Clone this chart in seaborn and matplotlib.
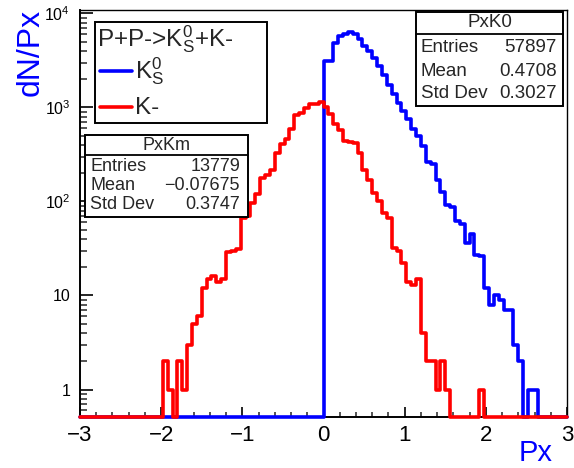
import numpy as np
import pandas as pd
import matplotlib
matplotlib.use("Agg")
import matplotlib.pyplot as plt
import seaborn as sns
from matplotlib.patches import Rectangle
from matplotlib.lines import Line2D
from matplotlib.ticker import FixedLocator, MultipleLocator, NullFormatter

# ---------------- data ----------------
x_range = (-3.0, 3.0)
n_bins = 100                     # bin width 0.06

# K0s histogram: counts starting at bin 50 (Px = 0)
k0s_first_bin = 50
k0s_counts = [3100, 3100, 4900, 5700, 6000, 6300, 6100, 5300, 4500, 3970,
              3380, 2750, 2200, 1750, 1400, 1120, 910, 750, 590, 500,
              390, 265, 250, 170, 125, 92, 88, 62, 57, 36,
              45, 27, 26, 12, 8, 10, 9, 7, 7, 3,
              2, 0, 1, 1]

# K- histogram: counts starting at bin 17 (Px = -1.98)
km_first_bin = 17
km_counts = [2, 1, 0, 2, 1, 3, 5, 6, 12, 15, 16, 14, 15, 29, 30, 31,
             67, 70, 97, 119, 178, 190, 218, 330, 405, 457, 585, 840, 880,
             990, 1080, 1090, 1140,
             1000, 850, 660, 580, 440, 430, 420, 330, 218, 170, 123, 100,
             75, 67, 32, 30, 22, 14, 13, 15,
             4, 2, 2, 1, 2, 1, 0, 0, 0, 0, 0, 0, 1]

x_ticks = [-3, -2, -1, 0, 1, 2, 3]
x_tick_labels = ["\u22123", "\u22122", "\u22121", "0", "1", "2", "3"]
y_ticks = [1, 10, 100, 1000, 10000]
y_tick_labels = ["1", "10", r"$\mathregular{10^{2}}$", r"$\mathregular{10^{3}}$",
                 r"$\mathregular{10^{4}}$"]

legend_title = r"P+P->K$\mathregular{^{0}_{S}}$+K-"
legend_labels = [r"K$\mathregular{^{0}_{S}}$", "K-"]

stats_k0 = ("PxK0", [("Entries", "57897"), ("Mean", "0.4708"), ("Std Dev", "0.3027")])
stats_km = ("PxKm", [("Entries", "13779"), ("Mean", "\u22120.07675"), ("Std Dev", "0.3747")])

BLUE = "#0000ff"
RED = "#ff0000"
YMIN, YMAX = 0.51, 11000

# ---------------- style ----------------
sns.set_style("ticks")
plt.rcParams["font.family"] = ["Liberation Sans", "DejaVu Sans"]
plt.rcParams["mathtext.default"] = "regular"
plt.rcParams["axes.unicode_minus"] = True

W, H = 574, 468
fig = plt.figure(figsize=(W / 100, H / 100), dpi=100)
ax = fig.add_axes([80 / W, 1 - 417 / H, (567 - 80) / W, (417 - 9.5) / H])


def fx(px):
    return px / W


def fy(py):
    return 1 - py / H


edges = np.linspace(x_range[0], x_range[1], n_bins + 1)


def step_frame(first, counts):
    c = np.zeros(n_bins)
    c[first:first + len(counts)] = counts
    c = np.where(c > 0, c, YMIN)      # empty bins drawn on the axis, like ROOT
    return pd.DataFrame({"Px": edges, "N": np.append(c, c[-1])})


df_k0 = step_frame(k0s_first_bin, k0s_counts)
df_km = step_frame(km_first_bin, km_counts)

LW = 2.6
sns.lineplot(data=df_k0, x="Px", y="N", ax=ax, color=BLUE, lw=LW,
             drawstyle="steps-post", clip_on=False, zorder=3, legend=False)
sns.lineplot(data=df_km, x="Px", y="N", ax=ax, color=RED, lw=LW,
             drawstyle="steps-post", clip_on=False, zorder=4, legend=False)

ax.set_yscale("log")
ax.set_xlim(*x_range)
ax.set_ylim(YMIN, YMAX)
ax.set_xlabel("")
ax.set_ylabel("")

ax.xaxis.set_major_locator(FixedLocator(x_ticks))
ax.set_xticklabels(x_tick_labels)
ax.xaxis.set_minor_locator(MultipleLocator(0.2))
ax.yaxis.set_major_locator(FixedLocator(y_ticks))
ax.set_yticklabels(y_tick_labels)
minor_y = [m * 10 ** e for e in range(-1, 5) for m in range(2, 10)]
ax.yaxis.set_minor_locator(FixedLocator([v for v in minor_y if YMIN < v < YMAX]))
ax.yaxis.set_minor_formatter(NullFormatter())

ax.tick_params(axis="x", which="major", direction="in", length=7.5, width=1.2,
               labelsize=16, pad=6, top=False, colors="black")
ax.tick_params(axis="x", which="minor", direction="in", length=3.8, width=1.1, top=False)
ax.tick_params(axis="y", which="major", direction="in", length=9.5, width=1.2,
               labelsize=11.5, pad=7, right=False, colors="black")
ax.tick_params(axis="y", which="minor", direction="in", length=5, width=1.1, right=False)
for s in ["top", "right"]:
    ax.spines[s].set_linewidth(1.0)
    ax.spines[s].set_color("black")
for s in ["bottom", "left"]:
    ax.spines[s].set_linewidth(1.4)
    ax.spines[s].set_color("black")

# axis titles
fig.text(fx(31), fy(9), "dN/Px", rotation=90, ha="center", va="top",
         color=BLUE, fontsize=23)
fig.text(fx(553), fy(453), "Px", ha="right", va="center", color=BLUE, fontsize=21)


def box(x0, y0, x1, y1, lw=1.4):
    r = Rectangle((fx(x0), fy(y1)), (x1 - x0) / W, (y1 - y0) / H,
                  transform=fig.transFigure, facecolor="white",
                  edgecolor="black", lw=lw, zorder=5)
    fig.add_artist(r)


# legend box
box(95, 22, 267, 123)
fig.text(fx(97), fy(39), legend_title, ha="left", va="center", fontsize=17.5, zorder=6)
for i, (lab, col) in enumerate(zip(legend_labels, [BLUE, RED])):
    yy = [70.5, 106.5][i]
    fig.add_artist(Line2D([fx(100), fx(132)], [fy(yy), fy(yy)], color=col, lw=2.6,
                          transform=fig.transFigure, zorder=6))
    fig.text(fx(135), fy(yy + 1), lab, ha="left", va="center", fontsize=17.5, zorder=6)


def stats_box(info, x0, y0, x1, y1, ysep, rows_y, xl, xr, fs):
    title, rows = info
    box(x0, y0, x1, y1)
    fig.add_artist(Line2D([fx(x0), fx(x1)], [fy(ysep), fy(ysep)], color="black",
                          lw=1.3, transform=fig.transFigure, zorder=6))
    fig.text(fx((x0 + x1) / 2), fy((y0 + ysep) / 2), title, ha="center",
             va="center", fontsize=fs, zorder=6)
    for (lab, val), yy in zip(rows, rows_y):
        fig.text(fx(xl), fy(yy), lab, ha="left", va="center", fontsize=fs, zorder=6)
        fig.text(fx(xr), fy(yy), val, ha="right", va="center", fontsize=fs, zorder=6)


stats_box(stats_k0, 416, 12, 563, 106, 33.5, [47.5, 71, 94], 421, 557, 13.5)
stats_box(stats_km, 85, 135, 248, 217, 155, [166, 185.5, 204.5], 90, 240, 13)

fig.savefig("out.png", dpi=100)
